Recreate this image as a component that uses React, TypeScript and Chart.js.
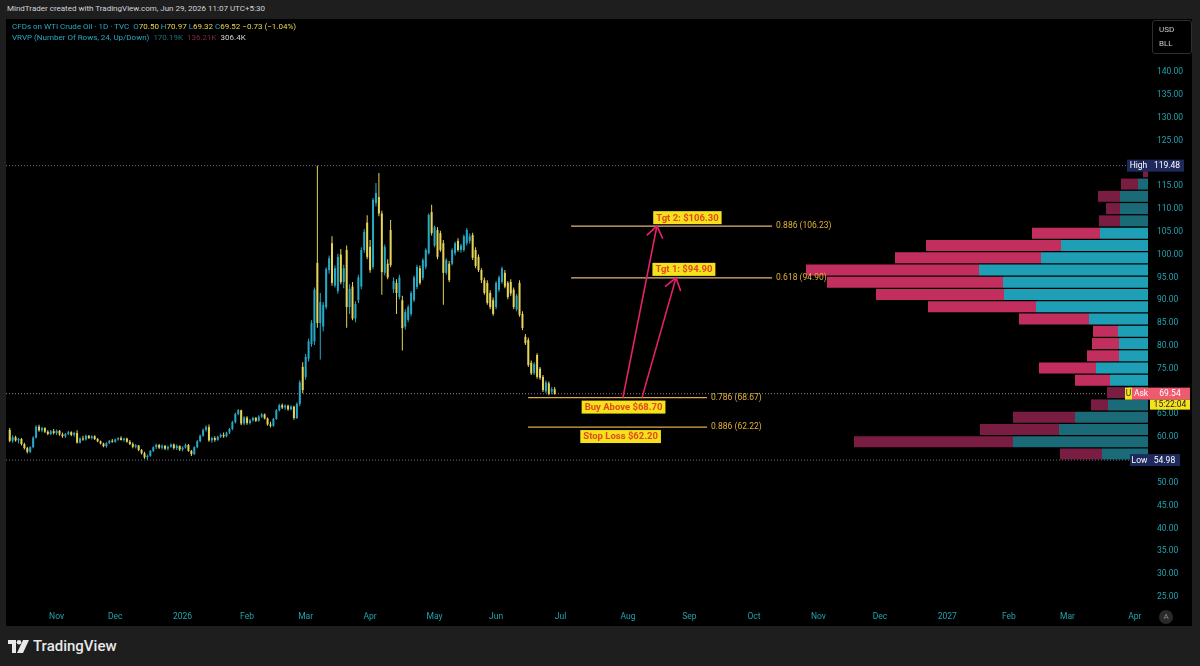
import React, { useEffect, useRef } from "react";
import { Chart, registerables } from "chart.js";

Chart.register(...registerables);

// ---------- DATA (daily candles, [open, high, low, close]) ----------
const candlesOct2025 = [
  [61.6, 62.0, 58.9, 59.2], [59.2, 60.4, 58.8, 60.0], [60.0, 60.3, 59.0, 59.3], [59.3, 59.9, 58.6, 59.6],
  [59.6, 59.8, 58.2, 58.5], [58.5, 58.8, 57.3, 57.6], [57.6, 57.9, 56.4, 56.8], [56.8, 58.0, 56.5, 57.8],
  [57.8, 60.2, 57.6, 59.9], [59.9, 62.6, 59.7, 62.3], [62.3, 62.7, 61.2, 61.5], [61.5, 62.3, 61.1, 62.0],
  [62.0, 62.2, 60.9, 61.2], [61.2, 61.5, 60.4, 60.7], [60.7, 61.6, 60.5, 61.3], [61.3, 61.8, 60.6, 60.9],
];
const candlesNov2025 = [
  [60.9, 61.7, 60.5, 61.4], [61.4, 61.6, 60.3, 60.6], [60.6, 61.0, 59.9, 60.2], [60.2, 60.9, 59.8, 60.7],
  [60.7, 61.4, 60.4, 61.1], [61.1, 61.3, 60.2, 60.5], [60.5, 61.2, 60.1, 60.9], [60.9, 61.5, 58.6, 58.8],
  [58.8, 60.0, 58.6, 59.7], [59.7, 60.3, 59.2, 59.5], [59.5, 60.6, 59.3, 60.3], [60.3, 60.5, 59.6, 59.8],
  [59.8, 60.4, 59.5, 60.2], [60.2, 60.4, 59.4, 59.6], [59.6, 59.8, 58.9, 59.1], [59.1, 59.3, 58.4, 58.6],
  [58.6, 58.8, 57.8, 58.0], [58.0, 58.9, 57.7, 58.7], [58.7, 59.4, 58.5, 59.2], [59.2, 59.6, 58.8, 59.0],
];
const candlesDec2025 = [
  [59.0, 59.7, 58.8, 59.5], [59.5, 60.0, 59.2, 59.8], [59.8, 60.2, 59.3, 59.4], [59.4, 59.9, 59.0, 59.7],
  [59.7, 59.9, 58.8, 59.0], [59.0, 59.4, 58.3, 58.5], [58.5, 58.9, 57.6, 57.9], [57.9, 58.5, 57.5, 58.2],
  [58.2, 58.3, 56.9, 57.2], [57.2, 57.4, 56.2, 56.5], [56.5, 56.8, 55.3, 55.6], [55.6, 56.2, 54.98, 55.9],
  [55.9, 57.2, 55.7, 57.0], [57.0, 58.0, 56.7, 57.8], [57.8, 58.6, 57.4, 58.3], [58.3, 58.5, 57.4, 57.7],
  [57.7, 58.4, 57.3, 58.1], [58.1, 58.3, 57.2, 57.5], [57.5, 58.2, 57.1, 57.9], [57.9, 58.6, 57.7, 58.4],
  [58.4, 58.6, 57.3, 57.6], [57.6, 58.4, 57.2, 58.1], [58.1, 58.2, 57.0, 57.3],
];
const candlesJan2026 = [
  [57.3, 58.0, 56.9, 57.7], [57.7, 58.6, 57.5, 58.3], [58.3, 58.5, 56.8, 57.0], [57.0, 57.2, 55.9, 56.3],
  [56.3, 58.0, 56.1, 57.8], [57.8, 59.4, 57.6, 59.1], [59.1, 60.6, 58.9, 60.3], [60.3, 61.9, 60.1, 61.6],
  [61.6, 62.6, 61.2, 62.2], [62.2, 62.8, 59.0, 59.3], [59.3, 60.1, 58.8, 59.8], [59.8, 60.2, 59.0, 59.4],
  [59.4, 60.3, 59.2, 60.1], [60.1, 60.8, 59.8, 60.5], [60.5, 61.0, 59.9, 60.2], [60.2, 61.2, 60.0, 61.0],
  [61.0, 62.0, 60.7, 61.8], [61.8, 63.6, 61.5, 63.3], [63.3, 65.4, 63.0, 65.1], [65.1, 66.2, 64.8, 65.9],
  [65.9, 66.0, 62.6, 63.0], [63.0, 64.6, 62.6, 64.3],
];
const candlesFeb2026 = [
  [64.3, 64.6, 62.7, 63.1], [63.1, 64.0, 62.8, 63.7], [63.7, 64.5, 63.4, 64.2], [64.2, 64.4, 63.3, 63.6],
  [63.6, 64.8, 63.4, 64.5], [64.5, 65.3, 64.2, 65.0], [65.0, 65.2, 63.9, 64.1], [64.1, 64.3, 62.5, 62.8],
  [62.8, 63.4, 62.1, 62.5], [62.5, 64.2, 62.3, 64.0], [64.0, 66.2, 63.8, 65.9], [65.9, 67.3, 65.6, 67.0],
  [67.0, 67.4, 66.2, 66.5], [66.5, 67.2, 66.0, 66.9], [66.9, 67.1, 65.8, 66.1], [66.1, 67.0, 65.9, 66.7],
  [66.7, 66.9, 63.8, 64.2], [64.2, 67.6, 64.0, 67.3], [67.3, 72.5, 66.8, 72.0], [75.4, 76.4, 69.6, 70.3],
];
const candlesMar2026 = [
  [73.2, 78.2, 72.6, 77.6], [77.2, 81.6, 76.6, 81.0], [80.4, 85.6, 79.8, 85.0], [81.0, 92.8, 80.2, 92.3],
  [98.2, 119.48, 84.0, 85.0], [85.0, 91.6, 77.0, 89.6], [84.2, 89.6, 83.2, 89.0], [88.5, 97.2, 88.0, 96.8],
  [96.6, 99.8, 95.8, 99.2], [102.5, 104.0, 93.2, 93.8], [93.2, 97.6, 92.8, 97.0], [92.0, 100.2, 91.4, 99.5],
  [100.0, 101.2, 93.5, 94.0], [94.0, 97.8, 92.6, 97.0], [101.0, 102.0, 84.0, 88.5], [88.5, 93.5, 87.0, 92.5],
  [93.0, 94.0, 85.6, 86.0], [86.0, 89.8, 85.2, 89.2], [90.0, 95.6, 89.4, 95.0], [93.0, 101.6, 92.4, 101.0],
  [101.0, 105.6, 100.4, 105.0], [107.0, 108.6, 99.0, 99.5],
];
const candlesApr2026 = [
  [101.7, 103.2, 96.0, 96.6], [97.3, 112.4, 96.8, 112.0], [111.3, 115.7, 110.6, 113.5], [112.6, 117.9, 108.4, 109.0],
  [109.0, 109.6, 91.2, 96.2], [96.0, 102.2, 95.4, 101.7], [98.0, 99.0, 94.6, 95.0], [105.4, 107.6, 97.2, 97.7],
  [92.4, 95.0, 91.6, 94.2], [93.8, 94.6, 87.0, 91.6], [90.7, 95.6, 90.2, 95.0], [90.0, 91.0, 79.0, 83.9],
  [84.2, 88.0, 83.6, 87.4], [85.7, 89.0, 85.2, 88.5], [87.0, 92.0, 86.5, 91.6], [90.0, 95.4, 89.6, 95.0],
  [92.9, 97.8, 92.4, 97.3], [97.0, 97.6, 93.4, 93.8], [94.9, 99.2, 94.4, 98.8], [97.3, 101.4, 96.8, 101.0],
  [100.3, 109.0, 100.0, 108.7], [109.3, 110.9, 104.2, 104.7],
];
const candlesMay2026 = [
  [102.0, 106.4, 101.6, 106.0], [105.4, 106.0, 99.0, 99.5], [104.7, 105.2, 100.6, 101.0], [102.5, 103.2, 89.0, 96.0],
  [96.0, 99.2, 95.6, 98.8], [98.0, 98.6, 94.0, 94.4], [98.0, 101.4, 97.6, 101.0], [100.3, 102.8, 99.8, 102.5],
  [103.0, 103.6, 100.6, 101.0], [101.0, 102.4, 100.4, 102.0], [101.0, 104.4, 100.6, 104.0], [102.5, 105.8, 102.0, 105.4],
  [103.0, 104.6, 102.4, 104.0], [104.3, 104.8, 98.8, 99.3], [101.0, 101.6, 97.0, 97.5], [99.5, 100.0, 96.2, 96.6],
  [96.6, 97.0, 93.8, 94.4], [94.4, 95.0, 91.2, 91.6], [93.8, 94.4, 89.0, 89.4], [91.6, 92.2, 88.0, 88.5],
  [90.0, 90.6, 86.6, 87.0],
];
const candlesJun2026 = [
  [88.5, 94.2, 88.0, 93.8], [92.3, 95.4, 91.8, 95.0], [94.0, 97.4, 93.6, 97.0], [96.0, 96.6, 92.6, 93.0],
  [93.8, 94.2, 90.2, 90.7], [94.0, 94.6, 91.0, 91.5], [92.3, 92.8, 88.0, 88.5], [88.0, 91.4, 87.6, 91.0],
  [93.8, 94.4, 86.4, 86.8], [87.0, 87.6, 83.4, 83.9], [82.0, 82.6, 80.2, 80.6], [81.3, 81.8, 75.4, 75.8],
  [76.3, 76.8, 73.6, 74.0], [74.0, 76.4, 73.6, 76.0], [78.0, 78.4, 72.8, 73.2], [75.0, 75.4, 72.6, 73.0],
  [73.2, 73.6, 69.9, 70.3], [70.0, 72.4, 69.6, 72.0], [71.8, 72.2, 69.2, 69.5], [70.0, 71.0, 69.4, 70.5],
  [70.5, 70.97, 69.32, 69.52],
];

// Time axis: bar index of first bar of each month, and its label
const monthTickIdx = [16, 36, 59, 81, 101, 123, 145, 166, 188, 211, 232, 254, 276, 297, 320, 341, 361, 384];
const monthTickLabels = ["Nov", "Dec", "2026", "Feb", "Mar", "Apr", "May", "Jun", "Jul", "Aug", "Sep", "Oct", "Nov", "Dec", "2027", "Feb", "Mar", "Apr"];
const priceTicks = [25, 30, 35, 40, 45, 50, 60, 65, 75, 80, 85, 90, 95, 100, 105, 110, 115, 125, 130, 135, 140];

// Visible range Profile (24 rows, Up/Down), volume in K per row, bottom row first
const vrvpLow = 54.98;
const vrvpHigh = 119.48;
const vrvpUpVol = [4.6, 13.5, 8.9, 7.3, 4.0, 2.0, 3.8, 5.2, 2.9, 2.9, 3.0, 5.9, 11.2, 14.4, 14.5, 16.9, 10.7, 8.7, 4.8, 2.8, 2.8, 2.8, 1.0, 0.0];
const vrvpDownVol = [4.2, 15.9, 7.9, 6.2, 1.7, 2.1, 3.5, 5.7, 3.2, 2.7, 2.5, 7.0, 10.8, 12.8, 17.6, 17.3, 14.6, 13.5, 6.8, 2.1, 1.4, 2.2, 1.7, 0.5];
const valueAreaRows = [6, 18];

// Drawings
const fibLevels = [
  { ratio: "0.886", price: 106.23, x0: 191.6, x1: 260.2 },
  { ratio: "0.618", price: 94.9, x0: 191.6, x1: 260.2 },
  { ratio: "0.786", price: 68.67, x0: 176.9, x1: 238.0 },
  { ratio: "0.886", price: 62.22, x0: 176.9, x1: 238.0 },
];
const tradeLabels = [
  { text: "Tgt 2: $106.30", x: 231.3, price: 106.23, side: "above" },
  { text: "Tgt 1: $94.90", x: 230.1, price: 94.9, side: "above" },
  { text: "Buy Above $68.70", x: 209.5, price: 68.67, side: "below" },
  { text: "Stop Loss $62.20", x: 208.5, price: 62.22, side: "below" },
];
const arrows = [
  { x0: 209.3, y0: 68.67, x1: 220.9, y1: 106.3 },
  { x0: 215.8, y0: 68.67, x1: 227.4, y1: 94.9 },
];
const lastPrice = 69.52;
const askPrice = 69.54;
const countdown = "15:22:04";

// ---------- STYLE ----------
const X_MIN = -1.27;
const X_MAX = 388.5;
const Y_MIN = 22.8;
const Y_MAX = 151.61;
const UP = "#27a8c4";
const DOWN = "#e6d45a";
const AXIS_TEXT = "#22a2ad";
const FONT = "Roboto, 'Noto Sans', sans-serif";

export default function App() {
  const ref = useRef<HTMLCanvasElement>(null);

  useEffect(() => {
    const canvas = ref.current;
    if (!canvas) return;
    const candles = [
      ...candlesOct2025, ...candlesNov2025, ...candlesDec2025, ...candlesJan2026, ...candlesFeb2026,
      ...candlesMar2026, ...candlesApr2026, ...candlesMay2026, ...candlesJun2026,
    ];
    const cColors = candles.map((c) => (c[3] >= c[0] ? UP : DOWN));
    const rowH = (vrvpHigh - vrvpLow) / vrvpUpVol.length;
    const rowMid = vrvpUpVol.map((_, k) => vrvpLow + (k + 0.5) * rowH);
    const inVA = (k: number) => k >= valueAreaRows[0] && k <= valueAreaRows[1];

    const hline = (price: number, color: string, dash: number[], order = 10) => ({
      type: "line",
      data: [{ x: X_MIN, y: price }, { x: X_MAX, y: price }],
      borderColor: color,
      borderWidth: 1,
      borderDash: dash,
      pointRadius: 0,
      order,
    });

    const datasets: any[] = [
      hline(vrvpHigh, "#6f727a", [1, 2]),
      hline(vrvpLow, "#6f727a", [1, 2]),
      hline(lastPrice, "#8a8d95", [1, 2]),
      {
        type: "bar",
        data: candles.map((c, i) => ({ x: i, y: [c[2], c[1]] })),
        backgroundColor: cColors,
        barThickness: 1,
        grouped: false,
        inflateAmount: 0,
        order: 3,
      },
      {
        type: "bar",
        data: candles.map((c, i) => ({ x: i, y: [c[0], c[3]] })),
        backgroundColor: cColors,
        barThickness: 2,
        minBarLength: 1,
        grouped: false,
        inflateAmount: 0,
        order: 2,
      },
      {
        type: "bar",
        indexAxis: "y",
        xAxisID: "xv",
        yAxisID: "y",
        data: rowMid.map((m, k) => ({ y: m, x: [0, vrvpUpVol[k]] })),
        backgroundColor: rowMid.map((_, k) => (inVA(k) ? "#1f9fb6" : "#1a6a77")),
        barThickness: 11,
        grouped: false,
        inflateAmount: 0,
        order: 4,
      },
      {
        type: "bar",
        indexAxis: "y",
        xAxisID: "xv",
        yAxisID: "y",
        data: rowMid.map((m, k) => ({ y: m, x: [vrvpUpVol[k], vrvpUpVol[k] + vrvpDownVol[k]] })),
        backgroundColor: rowMid.map((_, k) => (inVA(k) ? "#c22f5f" : "#7a1d42")),
        barThickness: 11,
        grouped: false,
        inflateAmount: 0,
        order: 4,
      },
      ...fibLevels.map((f) => ({
        type: "line",
        data: [{ x: f.x0, y: f.price }, { x: f.x1, y: f.price }],
        borderColor: f.price > 80 ? "#e2b47a" : "#e4ab45",
        borderWidth: 1.3,
        pointRadius: 0,
        order: 1,
      })),
      ...arrows.map((a) => ({
        type: "line",
        data: [{ x: a.x0, y: a.y0 }, { x: a.x1, y: a.y1 }],
        borderColor: "#e8226a",
        borderWidth: 1.6,
        pointRadius: 0,
        order: 0,
      })),
    ];

    const box = (ctx: CanvasRenderingContext2D, text: string, l: number, r: number, cy: number, bg: string, fg: string, h = 12) => {
      ctx.fillStyle = bg;
      ctx.fillRect(l, cy - h / 2, r - l, h);
      ctx.fillStyle = fg;
      ctx.textAlign = "center";
      ctx.textBaseline = "middle";
      ctx.fillText(text, (l + r) / 2, cy + 0.5);
    };

    const overlay = {
      id: "overlay",
      afterDatasetsDraw(chart: any) {
        const { ctx } = chart;
        const x = chart.scales.x;
        const y = chart.scales.y;
        ctx.save();
        ctx.font = `8.5px ${FONT}`;
        ctx.textBaseline = "middle";
        ctx.textAlign = "left";
        ctx.fillStyle = "#e2b23a";
        for (const f of fibLevels) {
          ctx.fillText(`${f.ratio} (${f.price.toFixed(2)})`, x.getPixelForValue(f.x1) + 4, y.getPixelForValue(f.price));
        }
        ctx.strokeStyle = "#e8226a";
        ctx.lineWidth = 1.6;
        for (const a of arrows) {
          const x0 = x.getPixelForValue(a.x0);
          const y0 = y.getPixelForValue(a.y0);
          const x1 = x.getPixelForValue(a.x1);
          const y1 = y.getPixelForValue(a.y1);
          const ang = Math.atan2(y0 - y1, x0 - x1);
          const L = 14;
          const s = 0.62;
          ctx.beginPath();
          ctx.moveTo(x1 + L * Math.cos(ang - s), y1 + L * Math.sin(ang - s));
          ctx.lineTo(x1, y1);
          ctx.lineTo(x1 + L * Math.cos(ang + s), y1 + L * Math.sin(ang + s));
          ctx.stroke();
        }
        ctx.font = `bold 9.5px ${FONT}`;
        for (const t of tradeLabels) {
          const cx = x.getPixelForValue(t.x);
          const ly = y.getPixelForValue(t.price);
          const w = ctx.measureText(t.text).width + 6;
          const h = 13;
          const cy = t.side === "above" ? ly - 2 - h / 2 : ly + 3 + h / 2;
          box(ctx, t.text, cx - w / 2, cx + w / 2, cy, "#f3e21c", "#e5471d", h);
        }
        ctx.restore();
      },
      afterDraw(chart: any) {
        const { ctx, chartArea } = chart;
        const y = chart.scales.y;
        const r = chartArea.right;
        ctx.save();
        ctx.font = `8.5px ${FONT}`;
        const yH = y.getPixelForValue(vrvpHigh);
        box(ctx, "High", r - 21, r + 2, yH, "#1e2a5c", "#ffffff");
        box(ctx, vrvpHigh.toFixed(2), r + 2, r + 36, yH, "#1e2a5c", "#ffffff");
        const yL = y.getPixelForValue(vrvpLow);
        box(ctx, "Low", r - 18, r + 1, yL, "#1e2a5c", "#ffffff");
        box(ctx, vrvpLow.toFixed(2), r + 1, r + 32, yL, "#1e2a5c", "#ffffff");
        const yA = y.getPixelForValue(askPrice);
        box(ctx, "U", r - 23, r - 16, yA, "#f3e21c", "#333333");
        box(ctx, "Ask", r - 16, r + 2, yA, "#ef5a70", "#ffffff");
        box(ctx, askPrice.toFixed(2), r + 2, r + 42, yA, "#ef5a70", "#ffffff");
        box(ctx, countdown, r + 2, r + 42, yA + 11, "#f3e21c", "#222222", 10);
        ctx.restore();
      },
    };

    const chart = new Chart(canvas, {
      type: "bar",
      data: { datasets },
      options: {
        animation: false,
        responsive: false,
        events: [],
        layout: { padding: 0 },
        plugins: { legend: { display: false }, tooltip: { enabled: false } },
        scales: {
          x: {
            type: "linear",
            position: "bottom",
            offset: false,
            min: X_MIN,
            max: X_MAX,
            grid: { display: false, drawTicks: false, offset: false },
            border: { display: false },
            ticks: {
              color: AXIS_TEXT,
              font: { family: FONT, size: 8.5 },
              autoSkip: false,
              maxRotation: 0,
              padding: 5,
              callback: (v: any) => {
                const k = monthTickIdx.indexOf(Number(v));
                return k >= 0 ? monthTickLabels[k] : "";
              },
            },
            afterBuildTicks: (s: any) => {
              s.ticks = monthTickIdx.map((v) => ({ value: v }));
            },
            afterFit: (s: any) => {
              s.height = 19;
              s.paddingLeft = 0;
              s.paddingRight = 0;
            },
          },
          y: {
            type: "linear",
            position: "right",
            offset: false,
            min: Y_MIN,
            max: Y_MAX,
            grid: { display: false, drawTicks: false, offset: false },
            border: { display: false },
            ticks: {
              color: AXIS_TEXT,
              font: { family: FONT, size: 8.5 },
              padding: 9,
              callback: (v: any) => Number(v).toFixed(2),
            },
            afterBuildTicks: (s: any) => {
              s.ticks = priceTicks.map((v) => ({ value: v }));
            },
            afterFit: (s: any) => {
              s.width = 44;
              s.paddingTop = 0;
              s.paddingBottom = 0;
            },
          },
          xv: {
            type: "linear",
            axis: "x",
            display: false,
            offset: false,
            min: 0,
            max: 114.2,
            reverse: true,
          },
        },
      } as any,
      plugins: [overlay],
    } as any);
    return () => chart.destroy();
  }, []);

  const t: React.CSSProperties = { position: "absolute", whiteSpace: "nowrap", fontFamily: FONT, lineHeight: "10px" };
  const teal = "#2aa8c0";
  const yel = "#e8d64e";

  return (
    <div style={{ position: "fixed", left: 0, top: 0, width: 1200, height: 666, background: "#1e1e1e", overflow: "hidden" }}>
      <div style={{ ...t, left: 7, top: 4, fontSize: 8, color: "#d1d4dc" }}>
        MindTrader created with TradingView.com, Jun 29, 2026 11:07 UTC+5:30
      </div>
      <div style={{ position: "absolute", left: 6, top: 19, width: 1186, height: 607, background: "#000" }}>
        <canvas ref={ref} width={1186} height={607} style={{ display: "block" }} />
      </div>
      <div style={{ ...t, left: 12, top: 22, fontSize: 8, color: teal }}>
        CFDs on WTI Crude Oil · 1D · TVC&nbsp;&nbsp;O<span style={{ color: yel }}>70.50</span>&nbsp;H<span style={{ color: yel }}>70.97</span>&nbsp;L<span style={{ color: yel }}>69.32</span>&nbsp;C<span style={{ color: yel }}>69.52</span>&nbsp;<span style={{ color: yel }}>−0.73 (−1.04%)</span>
      </div>
      <div style={{ ...t, left: 12, top: 33, fontSize: 8, color: teal }}>
        VRVP (Number Of Rows, 24, Up/Down)&nbsp;&nbsp;<span style={{ color: "#1d6f7a" }}>170.19K</span>&nbsp;&nbsp;<span style={{ color: "#7c2a40" }}>136.21K</span>&nbsp;&nbsp;<span style={{ color: "#d1d4dc" }}>306.4K</span>
      </div>
      <div style={{ position: "absolute", left: 1152, top: 20, width: 38, height: 32, border: "1px solid #2e2e2e", borderRadius: 3, background: "#000" }}>
        <div style={{ ...t, left: 6, top: 4, fontSize: 8, color: "#c8c8c8" }}>USD</div>
        <div style={{ ...t, left: 6, top: 18, fontSize: 8, color: "#c8c8c8" }}>BLL</div>
      </div>
      <div style={{ position: "absolute", left: 1159, top: 610, width: 14, height: 14, borderRadius: 7, background: "#2a2a2a", color: "#8a8a8a", fontSize: 8, fontFamily: FONT, textAlign: "center", lineHeight: "14px" }}>A</div>
      <svg style={{ position: "absolute", left: 8, top: 640 }} width={22} height={13} viewBox="0 0 22 13">
        <path d="M0 0 H8 V13 H4 V4 H0 Z" fill="#e8e8e8" />
        <circle cx={11} cy={2.3} r={2.3} fill="#e8e8e8" />
        <path d="M15 0 H21 L15 13 H9 Z" fill="#e8e8e8" />
      </svg>
      <div style={{ ...t, left: 33, top: 638, fontSize: 15, lineHeight: "17px", fontWeight: 500, color: "#e8e8e8" }}>TradingView</div>
    </div>
  );
}
